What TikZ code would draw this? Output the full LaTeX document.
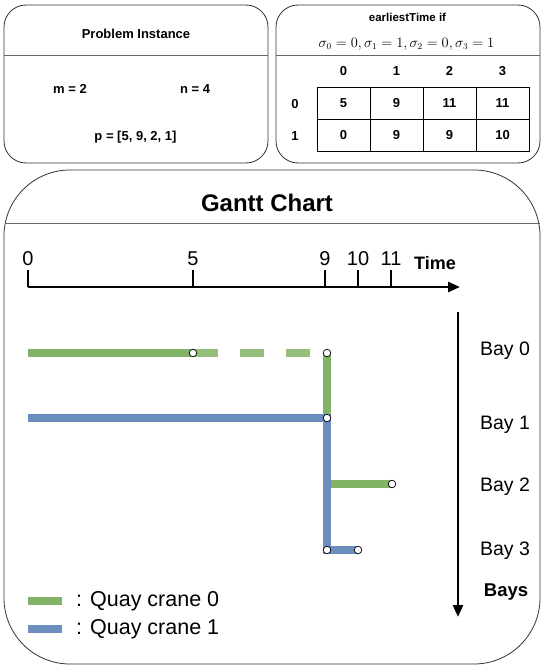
\documentclass[tikz,border=0pt]{standalone}
\usepackage{fontspec}
\setmainfont{Liberation Sans}
\usetikzlibrary{arrows.meta}
\definecolor{qgreen}{HTML}{82B366}
\definecolor{qblue}{HTML}{6C8EBF}
\begin{document}
\begin{tikzpicture}[x=1pt,y=-1pt,
  panel/.style={draw=black!80,line width=0.8pt},
  divider/.style={draw=black!60,line width=0.8pt},
  smallbold/.style={font=\fontsize{13}{15}\selectfont\bfseries,inner sep=0pt},
  smallreg/.style={font=\fontsize{11.5}{14}\selectfont\bfseries,inner sep=0pt},
  cell/.style={draw=black,line width=0.9pt,minimum width=53pt,minimum height=32pt,inner sep=0pt,font=\fontsize{13}{15}\selectfont\bfseries},
  axisline/.style={line width=2.6pt,-{Triangle[length=12pt,width=10pt]}},
  tickline/.style={line width=2.6pt},
  ticklabel/.style={font=\fontsize{20}{24}\selectfont,inner sep=0pt},
  baylabel/.style={font=\fontsize{19.5}{23}\selectfont,inner sep=0pt},
  bigbold/.style={font=\fontsize{18.5}{22}\selectfont\bfseries,inner sep=0pt},
  bar/.style={line width=8.5pt},
  endpt/.style={circle,draw=black,fill=white,line width=0.7pt,minimum size=7.6pt,inner sep=0pt},
  legendtext/.style={font=\fontsize{21.5}{25}\selectfont,inner sep=0pt,anchor=west}
]
\useasboundingbox (0,0) rectangle (545,669);

% ---- Problem Instance panel
\draw[panel,rounded corners=22pt] (4,5) rectangle (268,163);
\draw[divider] (4,55) -- (268,55);
\node[smallbold] (pititle) at (136,34) {Problem Instance};
\node[smallbold] (mval) at (70,89) {m = 2};
\node[smallbold] (nval) at (195,89) {n = 4};
\node[smallbold] (pval) at (135.5,137) {p = [5, 9, 2, 1]};

% ---- earliestTime panel
\draw[panel,rounded corners=22pt] (276,5) rectangle (540,163);
\draw[divider] (276,55) -- (540,55);
\node[smallreg] (ettitle) at (407.5,17) {earliestTime if};
\node[inner sep=0pt,font=\fontsize{13.5}{16}\selectfont] (sigma) at (406.5,44) {$\sigma_0=0,\sigma_1=1,\sigma_2=0,\sigma_3=1$};
\node[smallbold] (h0) at (343.5,71) {0};
\node[smallbold] (h1) at (396.5,71) {1};
\node[smallbold] (h2) at (449.5,71) {2};
\node[smallbold] (h3) at (502.5,71) {3};
\node[smallbold] (r0) at (295,104) {0};
\node[smallbold] (r1) at (295,136) {1};
\node[cell] (c00) at (343.5,103) {5};
\node[cell] (c01) at (396.5,103) {9};
\node[cell] (c02) at (449.5,103) {11};
\node[cell] (c03) at (502.5,103) {11};
\node[cell] (c10) at (343.5,135) {0};
\node[cell] (c11) at (396.5,135) {9};
\node[cell] (c12) at (449.5,135) {9};
\node[cell] (c13) at (502.5,135) {10};

% ---- Gantt panel
\draw[panel,rounded corners=66pt] (4,170) rectangle (540,664);
\draw[divider] (4.5,223) -- (539.5,223);
\node[inner sep=0pt,font=\fontsize{24}{28}\selectfont\bfseries] (gtitle) at (267,203) {Gantt Chart};

% time axis
\coordinate (tstart) at (28,287);
\coordinate (tend) at (460,287);
\draw[axisline] (tstart) -- (tend);
\foreach \v/\x in {0/28,5/193,9/325,10/358,11/391}{
  \draw[tickline] (\x,287) -- (\x,270);
  \node[ticklabel] (tl\v) at (\x,259) {\v};
}
\node[inner sep=0pt,font=\fontsize{18}{22}\selectfont\bfseries] (timelbl) at (435,263) {Time};

% bay axis
\coordinate (bstart) at (458,312);
\coordinate (bend) at (458,617);
\draw[axisline] (bstart) -- (bend);
\node[baylabel] (bay0) at (505,351) {Bay 0};
\node[baylabel] (bay1) at (505,425) {Bay 1};
\node[baylabel] (bay2) at (505,487) {Bay 2};
\node[baylabel] (bay3) at (505,551) {Bay 3};
\node[bigbold] (bayslbl) at (506,592) {Bays};

% gantt bars
\coordinate (g0a) at (28,353);
\coordinate (g0b) at (193,353);
\coordinate (g0c) at (327,353);
\coordinate (q1a) at (28,418);
\coordinate (q1b) at (327,418);
\coordinate (g2a) at (327,484);
\coordinate (g2b) at (392,484);
\coordinate (q3a) at (327,550);
\coordinate (q3b) at (358,550);

\draw[bar,qgreen] (g0a) -- (g0b);
\draw[bar,qgreen!85!white,dash pattern=on 24pt off 22pt] ([xshift=1pt]g0b) -- (g0c);
\draw[bar,qgreen] (g0c) -- (q1b);
\draw[bar,qgreen] (g2a) -- (g2b);
\draw[bar,qblue] (q1a) -- (q1b) -- (q3a) -- (q3b);

\node[endpt] (e0b) at (g0b) {};
\node[endpt] (e0c) at (g0c) {};
\node[endpt] (e1b) at (q1b) {};
\node[endpt] (e2b) at (g2b) {};
\node[endpt] (e3a) at (q3a) {};
\node[endpt] (e3b) at (q3b) {};

% legend
\coordinate (lg0a) at (28,601);
\coordinate (lg0b) at (62,601);
\coordinate (lg1a) at (28,629);
\coordinate (lg1b) at (62,629);
\draw[bar,qgreen] (lg0a) -- (lg0b);
\draw[bar,qblue] (lg1a) -- (lg1b);
\node[legendtext] (leg0) at (76,601) {: Quay crane 0};
\node[legendtext] (leg1) at (76,629) {: Quay crane 1};
\end{tikzpicture}
\end{document}
